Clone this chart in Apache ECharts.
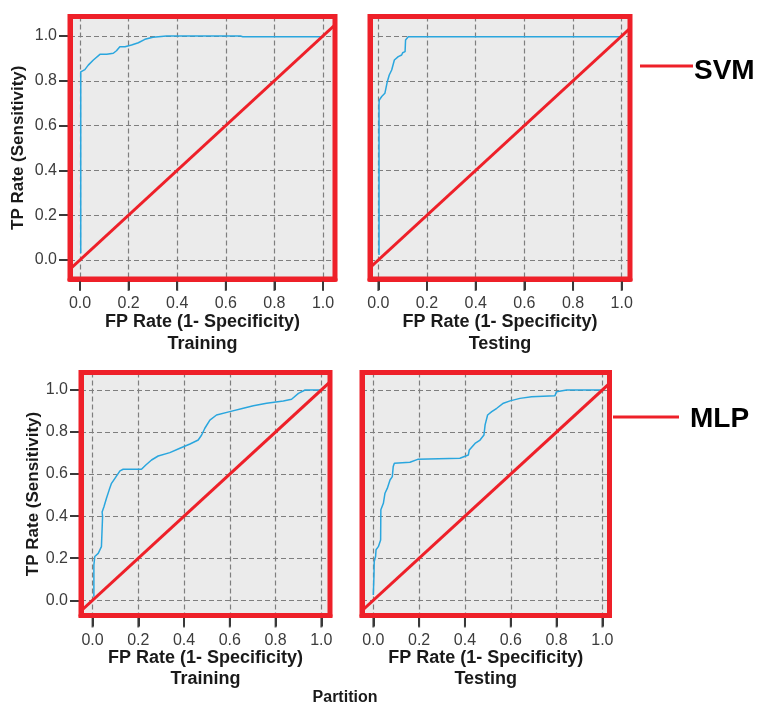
<!DOCTYPE html>
<html>
<head>
<meta charset="utf-8">
<script src="https://cdn.jsdelivr.net/npm/echarts@6/dist/echarts.min.js"></script>
<style>
  html, body { margin: 0; padding: 0; background: #ffffff; }
  #chart { width: 761px; height: 704px; }
</style>
</head>
<body>
<div id="chart"></div>
<script>
// ---- data ----
const tickValues = [0, 0.2, 0.4, 0.6, 0.8, 1.0];
const panelTitles = ['Training', 'Testing', 'Training', 'Testing'];
const modelNames = ['SVM', 'MLP'];
const diagonal = [[-0.2, -0.2], [1.2, 1.2]];

const svmTrainFpr = [0.003,0.003,0.011,0.02,0.034,0.055,0.082,0.11,0.137,0.15,0.164,0.185,0.212,0.24,0.267,0.30,0.356,0.66,0.67,1.0];
const svmTrainTpr = [0.03,0.84,0.84,0.85,0.87,0.893,0.918,0.918,0.923,0.934,0.952,0.952,0.96,0.97,0.985,0.994,1.0,1.0,0.997,0.997];

const svmTestFpr = [0.003,0.003,0.004,0.014,0.027,0.034,0.037,0.045,0.045,0.055,0.062,0.066,0.082,0.096,0.10,0.11,0.112,0.123,1.0];
const svmTestTpr = [0.022,0.70,0.714,0.73,0.744,0.75,0.796,0.80,0.826,0.848,0.856,0.893,0.908,0.915,0.925,0.93,0.982,0.997,0.997];

const mlpTrainFpr = [0.006,0.006,0.01,0.025,0.039,0.044,0.044,0.042,0.05,0.061,0.073,0.083,0.098,0.12,0.134,0.214,0.233,0.258,0.287,0.338,0.382,0.426,0.462,0.477,0.491,0.513,0.542,0.6,0.659,0.703,0.761,0.834,0.87,0.9,0.929,1.0];
const mlpTrainTpr = [0.017,0.168,0.208,0.223,0.255,0.263,0.398,0.42,0.445,0.485,0.525,0.556,0.58,0.615,0.623,0.623,0.643,0.667,0.686,0.702,0.723,0.743,0.762,0.786,0.818,0.857,0.881,0.897,0.913,0.925,0.937,0.948,0.956,0.984,1.0,1.0];

const mlpTestFpr = [0.0,0.003,0.004,0.01,0.012,0.022,0.032,0.033,0.044,0.051,0.061,0.073,0.083,0.087,0.092,0.16,0.194,0.378,0.415,0.419,0.444,0.466,0.483,0.488,0.499,0.517,0.539,0.568,0.597,0.64,0.691,0.793,0.8,0.844,1.0];
const mlpTestTpr = [0.025,0.12,0.184,0.208,0.24,0.255,0.287,0.43,0.461,0.509,0.532,0.572,0.588,0.636,0.651,0.656,0.67,0.675,0.691,0.715,0.746,0.762,0.786,0.834,0.881,0.897,0.913,0.937,0.948,0.96,0.968,0.973,0.992,1.0,1.0];

// ---- layout ----
const panels = [
  { left: 70,  top: 16.5,  width: 265,   height: 262.5, xMin: -0.0412, xMax: 1.0494, yMin: -0.0848, yMax: 1.087, yLabels: true,  nameGap: 43 },
  { left: 370, top: 16.5,  width: 260,   height: 262.5, xMin: -0.0341, xMax: 1.034,  yMin: -0.0848, yMax: 1.087, yLabels: false, nameGap: 43 },
  { left: 81,  top: 372.5, width: 249,   height: 243,   xMin: -0.0503, xMax: 1.038,  yMin: -0.0723, yMax: 1.083, yLabels: true,  nameGap: 37 },
  { left: 362, top: 372.5, width: 247.5, height: 243,   xMin: -0.0493, xMax: 1.031,  yMin: -0.0723, yMax: 1.083, yLabels: false, nameGap: 37 }
];
const curves = [
  [svmTrainFpr, svmTrainTpr],
  [svmTestFpr, svmTestTpr],
  [mlpTrainFpr, mlpTrainTpr],
  [mlpTestFpr, mlpTestTpr]
];

const FONT = 'Liberation Sans, Arial, sans-serif';
const RED = '#ee2029';
const BLUE = '#2aa6de';
const TICK_COLOR = '#3a3a3a';
const gridLine = () => ({ show: true, lineStyle: { color: '#7e7e7e', width: 1.2, type: [5, 3] } });
const tickStyle = () => ({ color: TICK_COLOR, width: 2 });
const axisLine = () => ({ show: true, onZero: false, lineStyle: { color: RED, width: 5 } });

const grids = [], xAxes = [], yAxes = [], series = [], graphics = [];

panels.forEach((p, i) => {
  grids.push({ left: p.left, top: p.top, width: p.width, height: p.height,
    show: true, backgroundColor: '#ebebeb', borderWidth: 0 });
  xAxes.push({
    type: 'value', gridIndex: i, min: p.xMin, max: p.xMax, position: 'bottom',
    name: 'FP Rate (1- Specificity)', nameLocation: 'middle', nameGap: 34,
    nameTextStyle: { fontFamily: FONT, fontWeight: 'bold', fontSize: 18, color: '#1a1a1a' },
    axisLine: axisLine(),
    axisTick: { show: true, length: 11, customValues: tickValues, lineStyle: tickStyle() },
    axisLabel: { customValues: tickValues, margin: 17, fontFamily: FONT, fontSize: 16, color: '#3c3c3c',
      formatter: v => v.toFixed(1) },
    splitLine: gridLine()
  });
  yAxes.push({
    type: 'value', gridIndex: i, min: p.yMin, max: p.yMax, position: 'left',
    name: p.yLabels ? 'TP Rate (Sensitivity)' : '', nameLocation: 'middle', nameGap: p.nameGap,
    nameTextStyle: { fontFamily: FONT, fontWeight: 'bold', fontSize: 17, color: '#1a1a1a' },
    axisLine: axisLine(),
    axisTick: { show: p.yLabels, length: 11, customValues: tickValues, lineStyle: tickStyle() },
    axisLabel: { show: p.yLabels, customValues: tickValues, margin: 13, fontFamily: FONT, fontSize: 16, color: '#3c3c3c',
      formatter: v => v.toFixed(1) },
    splitLine: gridLine()
  });
  const [fpr, tpr] = curves[i];
  series.push({
    type: 'line', xAxisIndex: i, yAxisIndex: i, showSymbol: false, symbol: 'none',
    data: fpr.map((x, k) => [x, tpr[k]]),
    lineStyle: { color: BLUE, width: 1.5 }, z: 3, animation: false
  });
  series.push({
    type: 'line', xAxisIndex: i, yAxisIndex: i, showSymbol: false, symbol: 'none', clip: true,
    data: diagonal, lineStyle: { color: RED, width: 3 }, z: 4, animation: false
  });
  // bottom tick marks, placed at the tick values on the x scale, just below the frame
  series.push({
    type: 'scatter', xAxisIndex: i, yAxisIndex: i, clip: false, silent: true, animation: false,
    data: tickValues.map(v => [v, p.yMin]),
    symbol: 'rect', symbolSize: [2, 10], symbolOffset: [0, 7],
    itemStyle: { color: TICK_COLOR }, z: 5
  });
  // red frame around each plot
  graphics.push({ type: 'rect', z: 100, shape: { x: p.left, y: p.top, width: p.width, height: p.height },
    style: { fill: 'none', stroke: RED, lineWidth: 5 } });
  // partition title
  graphics.push({ type: 'text', z: 100, x: p.left + p.width / 2, y: (i < 2 ? 344 : 679),
    style: { text: panelTitles[i], fontFamily: FONT, fontWeight: 'bold', fontSize: 18, fill: '#1a1a1a',
      align: 'center', verticalAlign: 'middle' } });
});

graphics.push({ type: 'text', z: 100, x: 345, y: 698,
  style: { text: 'Partition', fontFamily: FONT, fontWeight: 'bold', fontSize: 16, fill: '#1a1a1a',
    align: 'center', verticalAlign: 'middle' } });

// model labels
graphics.push({ type: 'line', z: 100, shape: { x1: 640, y1: 66, x2: 693, y2: 66 }, style: { stroke: RED, lineWidth: 3 } });
graphics.push({ type: 'text', z: 100, x: 694, y: 71,
  style: { text: modelNames[0], fontFamily: FONT, fontWeight: 'bold', fontSize: 28, fill: '#000',
    align: 'left', verticalAlign: 'middle' } });
graphics.push({ type: 'line', z: 100, shape: { x1: 613, y1: 417, x2: 679, y2: 417 }, style: { stroke: RED, lineWidth: 3 } });
graphics.push({ type: 'text', z: 100, x: 690, y: 419,
  style: { text: modelNames[1], fontFamily: FONT, fontWeight: 'bold', fontSize: 28, fill: '#000',
    align: 'left', verticalAlign: 'middle' } });

const chart = echarts.init(document.getElementById('chart'), null, { renderer: 'canvas' });
chart.setOption({
  backgroundColor: '#ffffff',
  animation: false,
  grid: grids,
  xAxis: xAxes,
  yAxis: yAxes,
  series: series,
  graphic: graphics
});
</script>
</body>
</html>
